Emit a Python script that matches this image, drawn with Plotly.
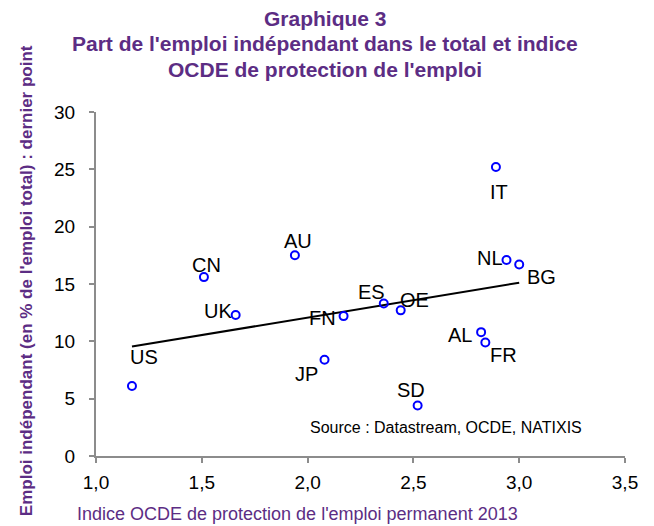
import numpy as np
import plotly.graph_objects as go

# ---- data ----
countries = ["US", "CN", "UK", "AU", "FN", "JP", "ES", "OE", "IT", "NL", "BG", "AL", "FR", "SD"]
epl_index = [1.17, 1.51, 1.66, 1.94, 2.17, 2.08, 2.36, 2.44, 2.89, 2.94, 3.00, 2.82, 2.84, 2.52]
self_employment = [6.1, 15.6, 12.3, 17.5, 12.2, 8.4, 13.3, 12.7, 25.2, 17.1, 16.7, 10.8, 9.9, 4.4]

x_ticks = [1.0, 1.5, 2.0, 2.5, 3.0, 3.5]
y_ticks = [0, 5, 10, 15, 20, 25, 30]

title_lines = ["Graphique 3",
               "Part de l'emploi indépendant dans le total et indice",
               "OCDE de protection de l'emploi"]
x_title = "Indice OCDE de protection de l'emploi permanent 2013"
y_title = "Emploi indépendant (en % de l'emploi total) : dernier point"
source = "Source : Datastream, OCDE, NATIXIS"

# label offsets in pixels (dx right, dy down) - layout only
label_offsets = {
    "US": (12, -29), "CN": (3, -12), "UK": (-18, -4), "AU": (3, -14),
    "FN": (-21, 2), "JP": (-18, 14), "ES": (-12, -11), "OE": (14, -10),
    "IT": (3, 25), "NL": (-17, -2), "BG": (22, 12), "AL": (-21, 3),
    "FR": (18, 13), "SD": (-7, -16),
}

PURPLE = "#5c2d84"
FONT = "Arial, Liberation Sans, sans-serif"
AXIS_GREY = "#8c8c8c"

# linear trend through the data
xs = np.array(epl_index)
ys = np.array(self_employment)
slope, intercept = np.polyfit(xs, ys, 1)
trend_x = [xs.min(), xs.max()]
trend_y = [slope * v + intercept for v in trend_x]

fig = go.Figure()
fig.add_trace(go.Scatter(x=trend_x, y=trend_y, mode="lines",
                         line=dict(color="black", width=2), hoverinfo="skip"))
fig.add_trace(go.Scatter(x=epl_index, y=self_employment, mode="markers",
                         marker=dict(symbol="circle-open", size=8, color="#0000ff",
                                     line=dict(width=2, color="#0000ff")),
                         text=countries))

annotations = []
for c, xv, yv in zip(countries, epl_index, self_employment):
    dx, dy = label_offsets[c]
    annotations.append(dict(x=xv, y=yv, xref="x", yref="y", text=c, showarrow=False,
                            xshift=dx, yshift=-dy, xanchor="center", yanchor="middle",
                            font=dict(family=FONT, size=20, color="black")))

title_y = [1.273, 1.198, 1.125]
for t, ty in zip(title_lines, title_y):
    annotations.append(dict(x=0.433, y=ty, xref="paper", yref="paper", text="<b>" + t + "</b>",
                            showarrow=False, xanchor="center", yanchor="middle",
                            font=dict(family=FONT, size=21, color=PURPLE)))

annotations.append(dict(x=-0.0397, y=-0.169, xref="paper", yref="paper", text=x_title,
                        showarrow=False, xanchor="left", yanchor="middle",
                        font=dict(family=FONT, size=18, color=PURPLE)))
annotations.append(dict(x=-0.130, y=0.509, xref="paper", yref="paper", text="<b>" + y_title + "</b>",
                        showarrow=False, xanchor="center", yanchor="middle", textangle=-90,
                        font=dict(family=FONT, size=17, color=PURPLE)))
annotations.append(dict(x=0.662, y=0.0843, xref="paper", yref="paper", text=source,
                        showarrow=False, xanchor="center", yanchor="middle",
                        font=dict(family=FONT, size=16, color="black")))

# page has an 8px body margin: size the figure so it fills the 654x526 window
fig.update_layout(
    width=646, height=518,
    margin=dict(l=88, r=29, t=104, b=70),
    paper_bgcolor="white", plot_bgcolor="white",
    showlegend=False,
    separators=", ",
    annotations=annotations,
    font=dict(family=FONT, size=19, color="black"),
)
fig.update_xaxes(range=[1.0, 3.5], tickvals=x_ticks, tickformat=".1f",
                 showgrid=False, zeroline=False, showline=True, linecolor=AXIS_GREY,
                 linewidth=2, ticks="outside", ticklen=5, tickwidth=2, tickcolor=AXIS_GREY,
                 tickfont=dict(family=FONT, size=19, color="black"), ticklabelstandoff=3)
fig.update_yaxes(range=[0, 30], tickvals=y_ticks,
                 showgrid=False, zeroline=False, showline=True, linecolor=AXIS_GREY,
                 linewidth=2, ticks="outside", ticklen=5, tickwidth=2, tickcolor=AXIS_GREY,
                 tickfont=dict(family=FONT, size=19, color="black"), ticklabelstandoff=10)

fig.write_html("out.html")
